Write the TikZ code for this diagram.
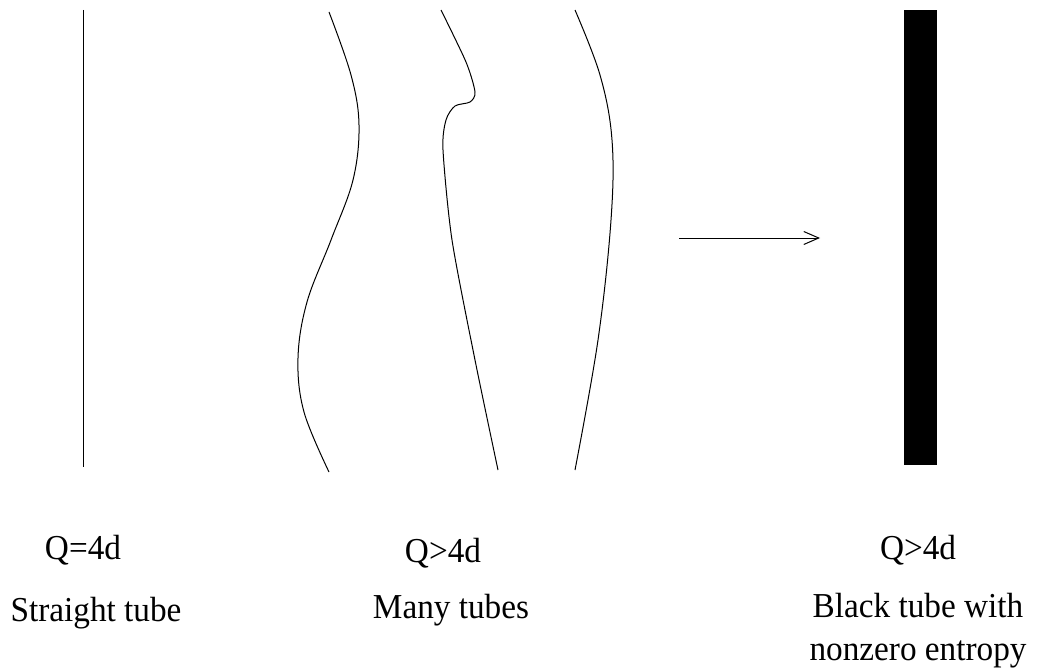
\documentclass[tikz,border=0pt]{standalone}
\usepackage{fontspec}
\setmainfont{Liberation Serif}
\newfontfamily\capfont[FakeStretch=0.95]{Liberation Serif}
\usetikzlibrary{arrows.meta,positioning}
\tikzset{
  tube/.style={line width=1pt,draw=black},
  caption/.style={font=\capfont\fontsize{35}{40}\selectfont,inner sep=0pt,anchor=base},
  flow/.style={-{Straight Barb[length=15pt,width=13pt]},line width=1pt}}

\begin{document}
\begin{tikzpicture}[x=1pt,y=-1pt]
  \useasboundingbox (0,0) rectangle (1046,671);

  % straight tube
  \draw[tube] (83,10) -- (83,467);

  % many tubes
  \draw[tube] plot[smooth,tension=.6] coordinates
    {(329,12) (351,75) (359,125) (353,180) (331,240) (307,302)
     (298,358) (304,412) (329,472)};
  \draw[tube] plot[smooth,tension=.45] coordinates
    {(441,10) (466,62) (475,92) (470,102) (455,106) (446,120)
     (443,150) (452,240) (475,360) (498,470)};
  \draw[tube] plot[smooth,tension=.6] coordinates
    {(575,10) (600,75) (612,140) (611,220) (598,340) (575,470)};

  % arrow
  \coordinate (from) at (679,238);
  \coordinate (to) at (820,238);
  \draw[flow] (from) -- (to);

  % black tube
  \fill[black] (904,10) rectangle (937,465);

  % labels
  \node[caption] (q1) at (83,559) {Q=4d};
  \node[caption] (q2) at (443,562) {Q>4d};
  \node[caption] (q3) at (918,559) {Q>4d};
  \node[caption] (s1) at (96,621) {Straight tube};
  \node[caption] (s2) at (451,618) {Many tubes};
  \node[caption] (s3) at (918,617) {Black tube with};
  \node[caption] (s4) at (918,660) {nonzero entropy};
\end{tikzpicture}
\end{document}
